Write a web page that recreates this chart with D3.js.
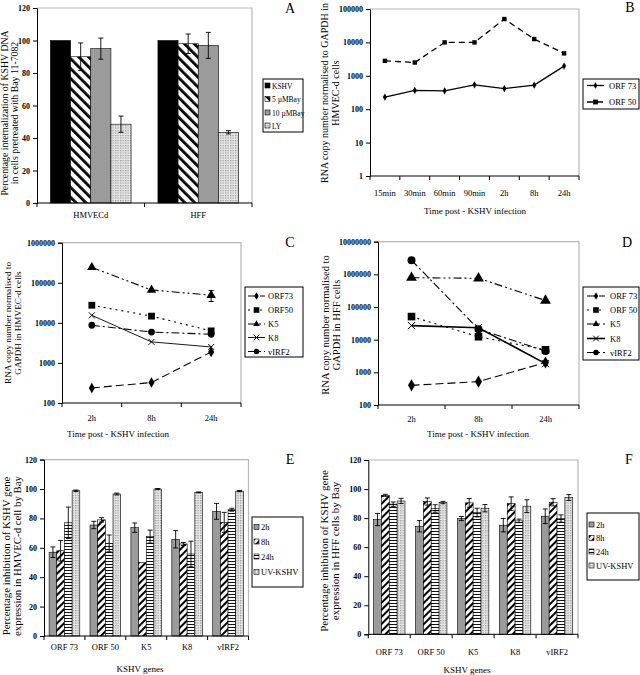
<!DOCTYPE html>
<html><head><meta charset="utf-8">
<script src="https://cdn.jsdelivr.net/npm/d3@7"></script>
<style>
body{margin:0;background:#fff}
svg{display:block}
text{font-family:"Liberation Serif","Times New Roman",serif;fill:#000}
</style>
</head><body>
<svg id="c" width="640" height="675"></svg>
<script>
// ---------------- DATA ----------------
const aGroups = ["HMVECd", "HFF"];
const aSeries = ["KSHV", "5 µMBay", "10 µMBay", "LY"];
const aValues = [[100, 90, 95, 48.5], [100, 98, 97, 43.5]];
const aErrors = [[0, 8.5, 6.5, 5], [0, 6, 8, 1]];
const pctTicks = [0, 20, 40, 60, 80, 100, 120];

const bTimes = ["15min", "30min", "60min", "90min", "2h", "8h", "24h"];
const bSeries = ["ORF 73", "ORF 50"];
const bORF73 = [230, 365, 355, 535, 415, 525, 1950];
const bORF50 = [2800, 2500, 10000, 10000, 50000, 12600, 4700];
const bTicks = [1, 10, 100, 1000, 10000, 100000];

const cdTimes = ["2h", "8h", "24h"];
const cSeries = ["ORF73", "ORF50", "K5", "K8", "vIRF2"];
const dSeries = ["ORF 73", "ORF 50", "K5", "K8", "vIRF2"];
const cORF73 = [237, 324, 1880];
const cORF50 = [27500, 14700, 6300];
const cK5 = [242000, 66000, 49000];
const cK5Err = [0, 0, 15000];
const cK8 = [15400, 3350, 2500];
const cVIRF2 = [8700, 5900, 5200];
const cTicks = [100, 1000, 10000, 100000, 1000000];

const dORF73 = [400, 520, 2000];
const dORF50 = [51000, 12300, 4900];
const dK5 = [790000, 760000, 158000];
const dK8 = [27000, 23300, 1850];
const dVIRF2 = [2700000, 21000, 4500];
const dTicks = [100, 1000, 10000, 100000, 1000000, 10000000];

const genes = ["ORF 73", "ORF 50", "K5", "K8", "vIRF2"];
const efSeries = ["2h", "8h", "24h", "UV-KSHV"];
const eValues = [[57, 58, 77, 98.8], [75.5, 79, 63, 96.6], [73.7, 49.9, 67.6, 100], [65.8, 62.6, 55.8, 97.7], [84.8, 77.3, 85.9, 98.6]];
const eErrors = [[3.6, 7, 10.7, 0.5], [2.5, 1.5, 5.7, 0.6], [3.2, 0, 4.4, 0.3], [5.9, 1, 8.7, 0.3], [5.4, 6.8, 1, 0.4]];
const fValues = [[79, 95.7, 89.6, 91.8], [74.4, 91.4, 86.6, 90.7], [79.7, 90.5, 83.8, 86.8], [75.1, 90, 78.1, 88.2], [81.3, 90.9, 79.7, 94.2]];
const fErrors = [[4.2, 0.7, 1.5, 1.8], [3.9, 2.5, 2.6, 0.8], [1.4, 3, 3, 2.5], [4.6, 4.6, 1.2, 4.4], [5, 2.5, 2.5, 2]];

// ---------------- DRAWING ----------------
const svg = d3.select("#c");
const defs = svg.append("defs");

function stripes(id, angle, size, w, bg) {
  const p = defs.append("pattern").attr("id", id).attr("patternUnits", "userSpaceOnUse")
    .attr("width", size).attr("height", size).attr("patternTransform", `rotate(${angle})`);
  p.append("rect").attr("width", size).attr("height", size).attr("fill", bg || "#fff");
  p.append("rect").attr("width", w).attr("height", size).attr("fill", "#000");
}
stripes("diagBack", -45, 7, 2.8);
stripes("diagFwd", 45, 5, 2);
(function () {
  const p = defs.append("pattern").attr("id", "horiz").attr("patternUnits", "userSpaceOnUse")
    .attr("width", 4).attr("height", 3);
  p.append("rect").attr("width", 4).attr("height", 3).attr("fill", "#fff");
  p.append("rect").attr("width", 4).attr("height", 1).attr("fill", "#111");
  const q = defs.append("pattern").attr("id", "dots").attr("patternUnits", "userSpaceOnUse")
    .attr("width", 2.5).attr("height", 2.5);
  q.append("rect").attr("width", 2.5).attr("height", 2.5).attr("fill", "#e6e6e6");
  q.append("circle").attr("cx", 0.7).attr("cy", 0.7).attr("r", 0.6).attr("fill", "#777");
})();

const GRAY = "#9b9b9b";
const aFills = ["#000", "url(#diagBack)", GRAY, "url(#dots)"];
const efFills = [GRAY, "url(#diagFwd)", "url(#horiz)", "url(#dots)"];

function frame(g, x0, x1, y0, y1) {
  g.append("path").attr("d", `M${x0},${y0}H${x1}V${y1}`).attr("fill", "none")
    .attr("stroke", "#b8b8b8").attr("stroke-width", 1.2);
}

function yAxis(g, y, x0, ticks, fmt) {
  const ax = g.append("g").attr("transform", `translate(${x0},0)`)
    .call(d3.axisLeft(y).tickValues(ticks).tickSize(4).tickPadding(3).tickFormat(fmt || d3.format("d")));
  ax.selectAll("text").style("font-size", "8px").style("font-weight", "bold")
    .style("font-family", "'Liberation Serif',serif");
  ax.selectAll("path,line").attr("stroke", "#000");
}

function xBase(g, xb, yb) {
  const dom = xb.domain();
  const r = xb.range();
  g.append("line").attr("x1", r[0]).attr("x2", r[1]).attr("y1", yb).attr("y2", yb).attr("stroke", "#000");
  const bounds = dom.map(d => xb(d)).concat([r[1]]);
  g.selectAll(".xt").data(bounds).enter().append("line")
    .attr("x1", d => d).attr("x2", d => d).attr("y1", yb).attr("y2", yb + 4).attr("stroke", "#000");
}

function yTitle(g, lines, xs, cy, fs) {
  lines.forEach((t, i) => {
    g.append("text").attr("transform", `translate(${xs[i]},${cy}) rotate(-90)`)
      .attr("text-anchor", "middle").style("font-size", fs + "px").text(t);
  });
}

function letter(g, t, x, y) {
  g.append("text").attr("x", x).attr("y", y).attr("text-anchor", "middle")
    .style("font-size", "14px").text(t);
}

function barPanel(o) {
  const g = svg.append("g");
  const x = d3.scaleBand().domain(o.cats).range([o.x0, o.x1]);
  const xi = d3.scaleBand().domain(o.series).range([0, x.bandwidth()]).paddingOuter(0.667);
  const y = d3.scaleLinear().domain([0, 120]).range([o.y1, o.y0]);
  frame(g, o.x0, o.x1, o.y0, o.y1);
  o.cats.forEach((c, ci) => {
    o.series.forEach((s, si) => {
      const v = o.values[ci][si];
      g.append("rect").attr("x", x(c) + xi(s)).attr("width", xi.bandwidth())
        .attr("y", y(v)).attr("height", y(0) - y(v))
        .attr("fill", o.fills[si]).attr("stroke", "#000").attr("stroke-width", 0.6);
      const e = o.errors[ci][si];
      if (e > 0) {
        const cx = x(c) + xi(s) + xi.bandwidth() / 2;
        g.append("path").attr("d",
          `M${cx - 2.5},${y(v + e)}H${cx + 2.5}M${cx},${y(v + e)}V${y(v - e)}M${cx - 2.5},${y(v - e)}H${cx + 2.5}`)
          .attr("stroke", "#000").attr("stroke-width", 0.9).attr("fill", "none");
      }
    });
  });
  xBase(g, x, o.y1);
  yAxis(g, y, o.x0, pctTicks);
  o.cats.forEach(c => {
    g.append("text").attr("x", x(c) + x.bandwidth() / 2).attr("y", o.labelY).attr("text-anchor", "middle")
      .style("font-size", "8.5px").text(c);
  });
  return { g, x, y };
}

function barLegend(g, box, series, fills, ys, fs) {
  g.append("rect").attr("x", box[0]).attr("y", box[1]).attr("width", box[2]).attr("height", box[3])
    .attr("fill", "#fff").attr("stroke", "#000").attr("stroke-width", 1);
  series.forEach((s, i) => {
    g.append("rect").attr("x", box[0] + 2).attr("y", ys[i] - 3).attr("width", 5).attr("height", 5)
      .attr("fill", fills[i]).attr("stroke", "#000").attr("stroke-width", 0.6);
    g.append("text").attr("x", box[0] + 9).attr("y", ys[i] + 2.5).style("font-size", fs + "px").text(s);
  });
}

function marker(g, type, cx, cy, r) {
  if (type === "x") {
    g.append("path").attr("d", `M${cx - r},${cy - r}L${cx + r},${cy + r}M${cx - r},${cy + r}L${cx + r},${cy - r}`)
      .attr("stroke", "#000").attr("stroke-width", 1);
    return;
  }
  const sym = { diamond: d3.symbolDiamond, square: d3.symbolSquare, triangle: d3.symbolTriangle, circle: d3.symbolCircle }[type];
  const k = { diamond: 2.2, square: 4, triangle: 2.4, circle: 3.14 }[type];
  g.append("path").attr("transform", `translate(${cx},${cy})`)
    .attr("d", d3.symbol().type(sym).size(k * r * r)()).attr("fill", "#000");
}

function linePanel(o) {
  const g = svg.append("g");
  const x = d3.scaleBand().domain(o.cats).range([o.x0, o.x1]);
  const y = d3.scaleLog().domain(o.domain).range([o.y1, o.y0]);
  frame(g, o.x0, o.x1, o.y0, o.y1);
  const line = d3.line().x((d, i) => x(o.cats[i]) + x.bandwidth() / 2).y(d => y(d));
  o.series.forEach(s => {
    g.append("path").attr("d", line(s.values)).attr("fill", "none").attr("stroke", "#000")
      .attr("stroke-width", s.width || 1.1).attr("stroke-dasharray", s.dash || null);
    s.values.forEach((v, i) => {
      const cx = x(o.cats[i]) + x.bandwidth() / 2;
      if (s.err && s.err[i] > 0) {
        g.append("path").attr("d",
          `M${cx - 2.5},${y(v + s.err[i])}H${cx + 2.5}M${cx},${y(v + s.err[i])}V${y(v - s.err[i])}M${cx - 2.5},${y(v - s.err[i])}H${cx + 2.5}`)
          .attr("stroke", "#000").attr("fill", "none");
      }
      marker(g, s.marker, cx, y(v), s.r || o.r);
    });
  });
  xBase(g, x, o.y1);
  yAxis(g, y, o.x0, o.ticks);
  o.cats.forEach(c => {
    g.append("text").attr("x", x(c) + x.bandwidth() / 2).attr("y", o.labelY).attr("text-anchor", "middle")
      .style("font-size", "8.5px").text(c);
  });
  return { g, x, y };
}

function lineLegend(g, box, series, ys, lx0, lx1, tx, r, fs) {
  g.append("rect").attr("x", box[0]).attr("y", box[1]).attr("width", box[2]).attr("height", box[3])
    .attr("fill", "#fff").attr("stroke", "#000").attr("stroke-width", 1);
  series.forEach((s, i) => {
    g.append("line").attr("x1", lx0).attr("x2", lx1).attr("y1", ys[i]).attr("y2", ys[i])
      .attr("stroke", "#000").attr("stroke-width", s.width || 1.1).attr("stroke-dasharray", s.dash || null);
    marker(g, s.marker, (lx0 + lx1) / 2, ys[i], r);
    g.append("text").attr("x", tx).attr("y", ys[i] + 3).style("font-size", fs + "px").text(s.name);
  });
}

// ----- Panel A -----
{
  const p = barPanel({ x0: 37, x1: 252, y0: 8, y1: 203, cats: aGroups, series: aSeries,
    values: aValues, errors: aErrors, fills: aFills, labelY: 218 });
  barLegend(p.g, [263, 79, 40, 53], aSeries, aFills, [86, 99.5, 113, 126], 7.5);
  yTitle(p.g, ["Percentage internalization of KSHV DNA", "in cells pretreated with Bay 11-7082"], [8, 18], 113, 9.8);
  letter(p.g, "A", 290, 13);
}

// ----- Panel B -----
const bDefs = [
  { name: bSeries[0], values: bORF73, marker: "diamond", dash: null, r: 2.6, width: 1.3 },
  { name: bSeries[1], values: bORF50, marker: "square", dash: "6,4", r: 2.2, width: 1.3 }
];
{
  const p = linePanel({ x0: 370, x1: 579, y0: 9, y1: 176, cats: bTimes, domain: [1, 100000],
    ticks: bTicks, series: bDefs, r: 2.5, labelY: 196 });
  lineLegend(p.g, [583, 79, 56, 30], bDefs, [85.5, 102], 587, 604, 609, 2.4, 8.5);
  yTitle(p.g, ["RNA copy number normalised to GAPDH in", "HMVEC-d cells"], [328, 339], 93, 10);
  p.g.append("text").attr("x", 475).attr("y", 214).attr("text-anchor", "middle").style("font-size", "9px")
    .text("Time post - KSHV infection");
  letter(p.g, "B", 630, 12);
}

// ----- Panel C -----
const cDefs = [
  { name: cSeries[0], values: cORF73, marker: "diamond", dash: "8,4", r: 3.8 },
  { name: cSeries[1], values: cORF50, marker: "square", dash: "2,4", r: 3.4 },
  { name: cSeries[2], values: cK5, err: cK5Err, marker: "triangle", dash: "8,3,2,3,2,3", r: 4 },
  { name: cSeries[3], values: cK8, marker: "x", dash: null, r: 3, width: 0.9 },
  { name: cSeries[4], values: cVIRF2, marker: "circle", dash: "8,3,2,3", r: 3.4 }
];
{
  const p = linePanel({ x0: 62, x1: 241, y0: 242.7, y1: 403, cats: cdTimes, domain: [100, 1000000],
    ticks: cTicks, series: cDefs, r: 3.5, labelY: 421 });
  lineLegend(p.g, [245, 287, 58, 70], cDefs, [296, 310, 324, 337.5, 351.5], 248, 265, 268, 2.8, 8.5);
  yTitle(p.g, ["RNA copy number normalised to", "GAPDH in HMVEC-d cells"], [11, 21], 323, 9.2);
  p.g.append("text").attr("x", 118).attr("y", 437).attr("text-anchor", "middle").style("font-size", "9px")
    .text("Time post -  KSHV infection");
  letter(p.g, "C", 290, 247);
}

// ----- Panel D -----
const dDefs = [
  { name: dSeries[0], values: dORF73, marker: "diamond", dash: "8,4", r: 4.4 },
  { name: dSeries[1], values: dORF50, marker: "square", dash: "2,4", r: 3.8 },
  { name: dSeries[2], values: dK5, marker: "triangle", dash: "8,3,2,3,2,3", r: 4.6 },
  { name: dSeries[3], values: dK8, marker: "x", dash: null, r: 3.6, width: 1.6 },
  { name: dSeries[4], values: dVIRF2, marker: "circle", dash: "8,3,2,3", r: 4 }
];
{
  const p = linePanel({ x0: 378, x1: 579, y0: 241.7, y1: 405, cats: cdTimes, domain: [100, 10000000],
    ticks: dTicks, series: dDefs, r: 4, labelY: 422 });
  lineLegend(p.g, [583, 287, 56, 73], dDefs, [296, 310, 324, 338.5, 352.5], 587, 605, 610, 2.8, 8.5);
  yTitle(p.g, ["RNA copy number normalised to", "GAPDH in HFF cells"], [329, 340], 325, 10.5);
  p.g.append("text").attr("x", 478).attr("y", 437).attr("text-anchor", "middle").style("font-size", "9px")
    .text("Time post - KSHV infection");
  letter(p.g, "D", 627, 247);
}

// ----- Panel E -----
{
  const p = barPanel({ x0: 44, x1: 248.5, y0: 459.6, y1: 636, cats: genes, series: efSeries,
    values: eValues, errors: eErrors, fills: efFills, labelY: 650 });
  barLegend(p.g, [252, 517, 51, 70], efSeries, efFills, [527.5, 542, 557, 572.5], 8.5);
  yTitle(p.g, ["Percentage inhibition of KSHV gene", "expression in HMVEC-d cell by Bay"], [10, 21], 556, 10.8);
  p.g.append("text").attr("x", 140).attr("y", 672).attr("text-anchor", "middle").style("font-size", "9px")
    .text("KSHV genes");
  letter(p.g, "E", 290, 464);
}

// ----- Panel F -----
{
  const p = barPanel({ x0: 368.3, x1: 578, y0: 460, y1: 634.3, cats: genes, series: efSeries,
    values: fValues, errors: fErrors, fills: efFills, labelY: 655 });
  barLegend(p.g, [587, 513, 52, 67], efSeries, efFills, [525, 538.5, 552, 566], 8.5);
  yTitle(p.g, ["Percentage inhibition of KSHV gene", "expression in HFF cells by Bay"], [328, 339], 551, 11);
  p.g.append("text").attr("x", 467).attr("y", 673).attr("text-anchor", "middle").style("font-size", "9px")
    .text("KSHV genes");
  letter(p.g, "F", 629, 464);
}
</script>
</body></html>
